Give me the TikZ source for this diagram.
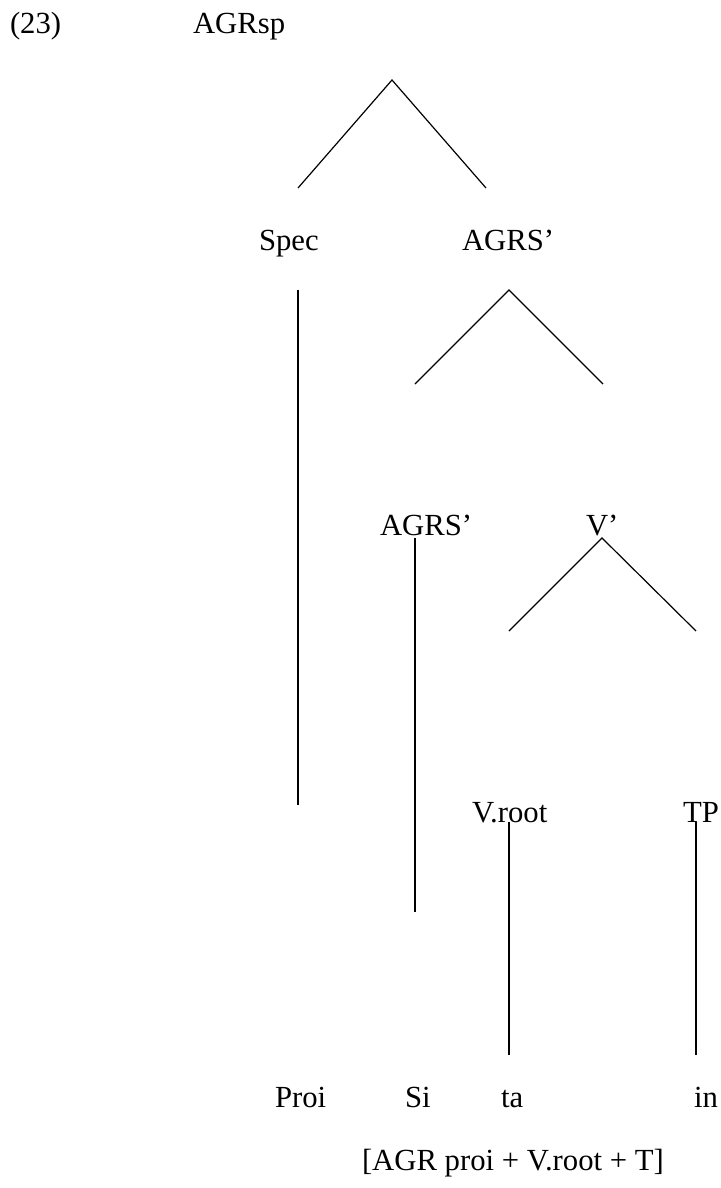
\documentclass[tikz,border=0pt]{standalone}
\usepackage{fontspec}
\setmainfont{Liberation Serif}
\begin{document}
\begin{tikzpicture}[x=1bp,y=-1bp,
  lbl/.style={anchor=base west,inner sep=0pt,outer sep=0pt,font=\fontsize{30.7bp}{36bp}\selectfont},
  branch/.style={line width=1.2bp,line cap=butt}]
\useasboundingbox[fill=white] (0,0) rectangle (721,1188);
% labels
\node[lbl] (num)   at (10,33)   {(23)};
\node[lbl] (agrsp) at (193,33)  {AGRsp};
\node[lbl] (spec)  at (259,250) {Spec};
\node[lbl] (agrsA) at (462,250) {AGRS’};
\node[lbl] (agrsB) at (380,535) {AGRS’};
\node[lbl] (vbar)  at (586,535) {V’};
\node[lbl] (vroot) at (472,822) {V.root};
\node[lbl] (tp)    at (683,822) {TP};
\node[lbl] (proi)  at (275,1107) {Proi};
\node[lbl] (si)    at (405,1107) {Si};
\node[lbl] (ta)    at (501,1107) {ta};
\node[lbl] (in)    at (694,1107) {in};
\node[lbl] (gloss) at (362,1170) {[AGR proi + V.root + T]};
% branch points
\coordinate (t1a) at (392,80);
\coordinate (t1l) at (298,188);
\coordinate (t1r) at (486,188);
\coordinate (s1a) at (298,290);
\coordinate (s1b) at (298,805);
\coordinate (t2a) at (509,290);
\coordinate (t2l) at (415,384);
\coordinate (t2r) at (603,384);
\coordinate (s2a) at (415,538);
\coordinate (s2b) at (415,912);
\coordinate (t3a) at (602,538);
\coordinate (t3l) at (509,631);
\coordinate (t3r) at (696,631);
\coordinate (s3a) at (509,822);
\coordinate (s3b) at (509,1055);
\coordinate (s4a) at (696,822);
\coordinate (s4b) at (696,1055);
% branches
\draw[branch] (t1l) -- (t1a) -- (t1r);
\draw[branch] (s1a) -- (s1b);
\draw[branch] (t2l) -- (t2a) -- (t2r);
\draw[branch] (s2a) -- (s2b);
\draw[branch] (t3l) -- (t3a) -- (t3r);
\draw[branch] (s3a) -- (s3b);
\draw[branch] (s4a) -- (s4b);
\end{tikzpicture}
\end{document}
